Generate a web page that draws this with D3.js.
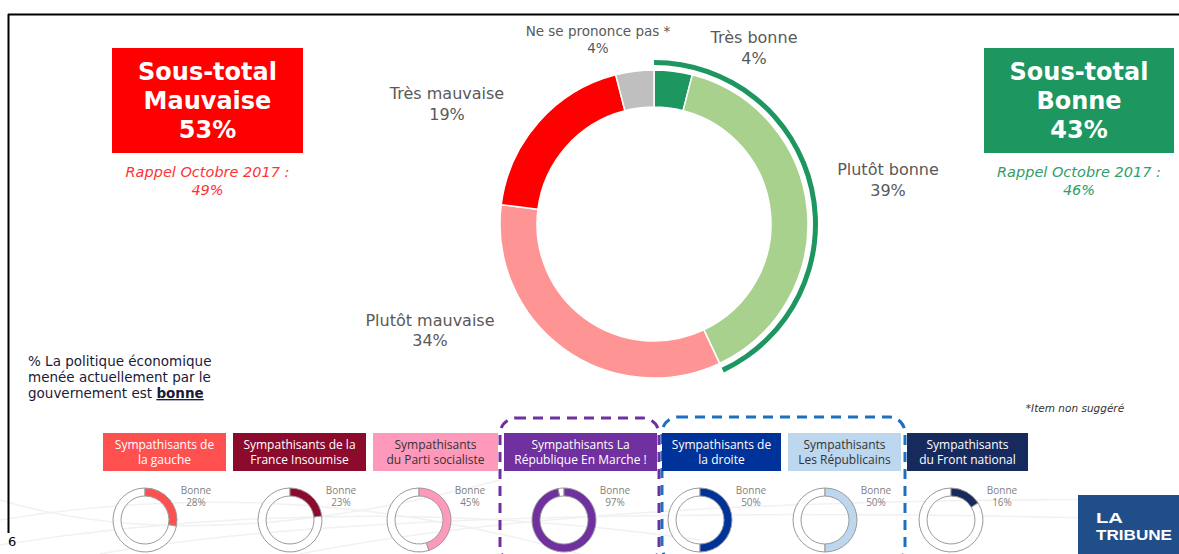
<!DOCTYPE html>
<html><head><meta charset="utf-8">
<script src="https://cdn.jsdelivr.net/npm/d3@7"></script>
<style>
html,body{margin:0;padding:0;background:#fff;}
svg{display:block;}
</style></head>
<body>
<svg id="chart" width="1179" height="554"></svg>
<script>
// ---- data ----
const categories = ["Très bonne", "Plutôt bonne", "Plutôt mauvaise", "Très mauvaise", "Ne se prononce pas *"];
const values = [4, 39, 34, 19, 4];
const sliceColors = ["#1e9660", "#a9d18e", "#ff9494", "#ff0000", "#bfbfbf"];
const subtotalNames = ["Mauvaise", "Bonne"];
const subtotalValues = [53, 43];
const rappelValues = [49, 46];
const groupLine1 = ["Sympathisants de", "Sympathisants de la", "Sympathisants", "Sympathisants La", "Sympathisants de", "Sympathisants", "Sympathisants"];
const groupLine2 = ["la gauche", "France Insoumise", "du Parti socialiste", "République En Marche !", "la droite", "Les Républicains", "du Front national"];
const groupBonne = [28, 23, 45, 97, 50, 50, 16];
const groupColors = ["#ff5050", "#8c0a2c", "#ff99bb", "#7030a0", "#003399", "#bdd7ee", "#172a5e"];
const groupTextColors = ["#fff", "#fff", "#333", "#fff", "#fff", "#333", "#fff"];

// ---- layout ----
const svg = d3.select("#chart");
const W = 1179, H = 554;
const main = "'DejaVu Sans', Verdana, sans-serif";
const humanist = "'Open Sans', 'Noto Sans', sans-serif";

// faint decorative swooshes at the bottom
const sw = svg.append("g").attr("fill", "none").attr("stroke", "#f1f1f1").attr("stroke-width", 1.5);
[[0,520,300,470,600,560],[0,545,350,490,700,540],[100,554,400,500,1179,520],[300,554,600,495,1179,500],[0,500,200,560,500,480]].forEach(p => {
  sw.append("path").attr("d", `M${p[0]},${p[1]} Q${p[2]},${p[3]} ${p[4]},${p[5]}`);
});

// frame
svg.append("line").attr("x1", 8).attr("x2", W).attr("y1", 14.5).attr("y2", 14.5).attr("stroke", "#000").attr("stroke-width", 2);
svg.append("line").attr("x1", 8.5).attr("x2", 8.5).attr("y1", 14).attr("y2", 533).attr("stroke", "#000").attr("stroke-width", 2);
svg.append("text").attr("x", 8).attr("y", 546).attr("font-family", main).attr("font-size", 13).attr("fill", "#000").text("6");

// main donut
const cx = 654, cy = 224, rIn = 117, rOut = 154;
const pie = d3.pie().sort(null).value(d => d);
const arcs = pie(values);
const arcGen = d3.arc().innerRadius(rIn).outerRadius(rOut);
const g = svg.append("g").attr("transform", `translate(${cx},${cy})`);
g.selectAll("path.slice").data(arcs).join("path")
  .attr("class", "slice")
  .attr("d", arcGen)
  .attr("fill", (d, i) => sliceColors[i])
  .attr("stroke", "#fff").attr("stroke-width", 1.5);

// "Bonne" bracket arc
const bonneTotal = values[0] + values[1];
const bonneScale = d3.scaleLinear().domain([0, d3.sum(values)]).range([0, 2 * Math.PI]);
g.append("path")
  .attr("d", d3.arc().innerRadius(159).outerRadius(164).startAngle(0).endAngle(bonneScale(bonneTotal))())
  .attr("fill", "#1e9660");

// slice labels
const labelPos = [[754, 37, 58, 16], [888, 169, 190, 16], [430, 320, 340, 16], [447, 93, 114, 16], [598, 31, 48, 13.5]];
categories.forEach((c, i) => {
  const p = labelPos[i];
  const t = svg.append("text").attr("text-anchor", "middle").attr("font-family", main)
    .attr("font-size", p[3]).attr("fill", "#595959");
  t.append("tspan").attr("x", p[0]).attr("y", p[1]).attr("dominant-baseline", "central").text(c);
  t.append("tspan").attr("x", p[0]).attr("y", p[2]).attr("dominant-baseline", "central").text(values[i] + "%");
});

// subtotal boxes
const boxes = [
  {x: 112, w: 191, fill: "#ff0000", rappel: "#ff3333"},
  {x: 984, w: 190, fill: "#1e9660", rappel: "#2e9e6a"}
];
boxes.forEach((b, i) => {
  svg.append("rect").attr("x", b.x).attr("y", 48).attr("width", b.w).attr("height", 105).attr("fill", b.fill);
  const mx = b.x + b.w / 2;
  ["Sous-total", subtotalNames[i], subtotalValues[i] + "%"].forEach((s, k) => {
    svg.append("text").attr("x", mx).attr("y", 72 + k * 29).attr("text-anchor", "middle")
      .attr("dominant-baseline", "central").attr("font-family", main).attr("font-weight", "bold")
      .attr("font-size", 24).attr("fill", "#fff").text(s);
  });
  ["Rappel Octobre 2017 :", rappelValues[i] + "%"].forEach((s, k) => {
    svg.append("text").attr("x", mx).attr("y", 172 + k * 18).attr("text-anchor", "middle")
      .attr("dominant-baseline", "central").attr("font-family", main).attr("font-style", "italic")
      .attr("font-size", 14.5).attr("fill", b.rappel).text(s);
  });
});

// question text
const q = svg.append("text").attr("font-family", main).attr("font-size", 13.5).attr("fill", "#1a1a3a");
q.append("tspan").attr("x", 28).attr("y", 366).text("% La politique économique");
q.append("tspan").attr("x", 28).attr("y", 382).text("menée actuellement par le");
const l3 = q.append("tspan").attr("x", 28).attr("y", 398);
l3.append("tspan").text("gouvernement est ");
l3.append("tspan").attr("font-weight", "bold").attr("text-decoration", "underline").text("bonne");

svg.append("text").attr("x", 1075).attr("y", 408).attr("text-anchor", "middle").attr("dominant-baseline", "central")
  .attr("font-family", main).attr("font-style", "italic").attr("font-size", 10.5).attr("fill", "#333").text("*Item non suggéré");

// dashed group frames
svg.append("rect").attr("x", 500).attr("y", 418).attr("width", 159).attr("height", 145).attr("rx", 16)
  .attr("fill", "none").attr("stroke", "#7030a0").attr("stroke-width", 3).attr("stroke-dasharray", "10 7");
svg.append("rect").attr("x", 662).attr("y", 417).attr("width", 243).attr("height", 146).attr("rx", 16)
  .attr("fill", "none").attr("stroke", "#1f6fc0").attr("stroke-width", 3).attr("stroke-dasharray", "10 7");

// group badges
const badgeX = [[103, 226], [233, 366], [373, 498], [504, 657], [662, 781], [788, 901], [907, 1028]];
const donutX = [145, 290, 419, 564, 700, 825, 951];
const dcy = 520, dOut = 32, dIn = 24;
const bonneArcScale = d3.scaleLinear().domain([0, 100]).range([0, 2 * Math.PI]);
groupLine1.forEach((l1, i) => {
  const [x0, x1] = badgeX[i];
  svg.append("rect").attr("x", x0).attr("y", 433).attr("width", x1 - x0).attr("height", 38).attr("fill", groupColors[i]);
  const mx = (x0 + x1) / 2;
  [l1, groupLine2[i]].forEach((s, k) => {
    svg.append("text").attr("x", mx).attr("y", 444 + k * 15).attr("text-anchor", "middle").attr("dominant-baseline", "central")
      .attr("font-family", humanist).attr("font-size", 12).attr("fill", groupTextColors[i]).text(s);
  });
  const dg = svg.append("g").attr("transform", `translate(${donutX[i]},${dcy})`);
  const a = d3.arc().innerRadius(dIn).outerRadius(dOut);
  dg.append("path").attr("d", a({startAngle: bonneArcScale(groupBonne[i]), endAngle: 2 * Math.PI}))
    .attr("fill", "#fff").attr("stroke", "#9a9a9a").attr("stroke-width", 1);
  dg.append("path").attr("d", a({startAngle: 0, endAngle: bonneArcScale(groupBonne[i])}))
    .attr("fill", groupColors[i]).attr("stroke", "#9a9a9a").attr("stroke-width", 1);
  const lx = donutX[i] + 51;
  ["Bonne", groupBonne[i] + "%"].forEach((s, k) => {
    svg.append("text").attr("x", lx).attr("y", 490 + k * 12).attr("text-anchor", "middle").attr("dominant-baseline", "central")
      .attr("font-family", humanist).attr("font-size", 10).attr("fill", "#7f7f7f").text(s);
  });
});

// logo
svg.append("rect").attr("x", 1078).attr("y", 495).attr("width", 101).attr("height", 59).attr("fill", "#1f4e89");
const logoFont = "'Liberation Sans Narrow', 'Liberation Sans', sans-serif";
svg.append("text").attr("x", 1096).attr("y", 523).attr("font-family", logoFont)
  .attr("font-weight", "bold").attr("font-size", 14.5).attr("fill", "#fff")
  .attr("textLength", 27).attr("lengthAdjust", "spacingAndGlyphs").text("LA");
svg.append("text").attr("x", 1096).attr("y", 540).attr("font-family", logoFont)
  .attr("font-weight", "bold").attr("font-size", 14.5).attr("fill", "#fff")
  .attr("textLength", 76).attr("lengthAdjust", "spacingAndGlyphs").text("TRIBUNE");
</script>
</body></html>
